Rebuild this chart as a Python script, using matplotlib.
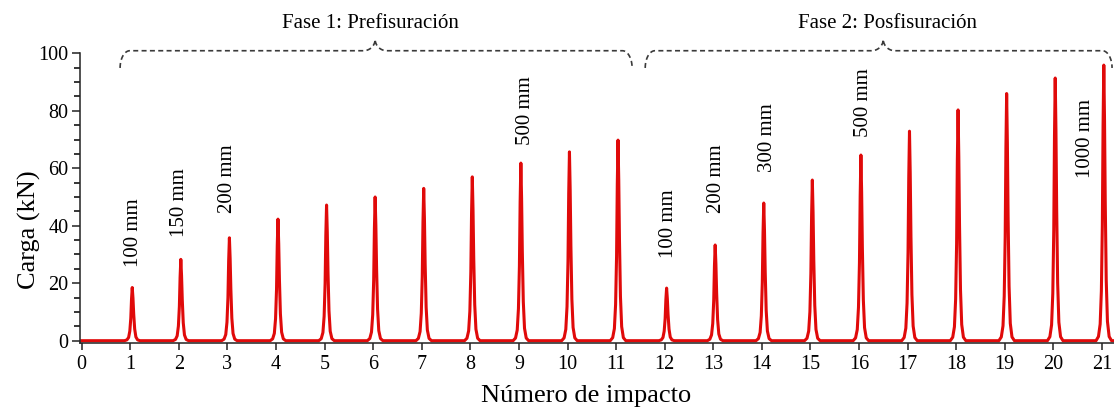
#!/usr/bin/env python3
"""
Carga vs numero de impacto: pulse train of impact loads with drop height labels.
"""

import numpy as np
import matplotlib
matplotlib.use("Agg")
import matplotlib.pyplot as plt

# --- data ---
impacts = list(range(1, 22))
peak_load = [18.5, 28.3, 35.8, 42.3, 47.2, 50.0, 53.0, 57.0, 61.8, 65.7, 69.8,
             18.3, 33.3, 47.9, 55.9, 64.6, 72.9, 80.3, 86.0, 91.4, 95.9]

# normalised shape of one load pulse (time offset from impact, fraction of peak)
pulse_dt = [-0.16, -0.11, -0.075, -0.05, -0.03, -0.015, 0.0, 0.015, 0.03, 0.05, 0.075, 0.11, 0.16]
pulse_frac = [0.0, 0.015, 0.06, 0.18, 0.42, 0.78, 1.0, 0.8, 0.5, 0.22, 0.07, 0.015, 0.0]

drop_labels = ["100 mm", "150 mm", "200 mm", "500 mm",
               "100 mm", "200 mm", "300 mm", "500 mm", "1000 mm"]
drop_x = [1.06, 2.02, 3.01, 9.13, 12.07, 13.06, 14.11, 16.10, 20.66]
drop_y = [25.6, 36.2, 44.4, 68.1, 28.8, 44.4, 58.7, 70.9, 56.6]

phase_labels = ["Fase 1: Prefisuración", "Fase 2: Posfisuración"]
phase_start = [0.79, 11.60]
phase_end = [11.33, 21.21]
phase_tip = [6.04, 16.50]
phase_text_x = [5.94, 16.58]

plt.rcParams["font.family"] = ["Liberation Serif", "DejaVu Serif"]

RED = "#e00a0a"
DASH = "#3a3a3a"


def draw_brace(ax, x0, x1, xm, y, end_w=0.2, end_h=6.0, tip_w=0.24, tip_h=4.0):
    t = np.linspace(0, np.pi / 2, 20)
    xs, ys = [], []
    xs += list(x0 + end_w - end_w * np.cos(t)); ys += list(y - end_h + end_h * np.sin(t))
    xs += list(xm - tip_w + tip_w * np.sin(t)); ys += list(y + tip_h - tip_h * np.cos(t))
    xs += list(xm + tip_w - tip_w * np.sin(t[::-1])); ys += list(y + tip_h - tip_h * np.cos(t[::-1]))
    xs += list(x1 - end_w + end_w * np.sin(t)); ys += list(y - end_h + end_h * np.cos(t))
    ax.plot(xs, ys, color=DASH, lw=1.2, ls=(0, (3, 2)), clip_on=False)


# build the load signal from the pulses
sig_x = [0.0]
sig_y = [0.0]
for imp, pk in zip(impacts, peak_load):
    for dt, fr in zip(pulse_dt, pulse_frac):
        sig_x.append(imp + 0.04 + dt)
        sig_y.append(pk * fr)
sig_x.append(21.3)
sig_y.append(0.0)

fig = plt.figure(figsize=(11.14, 4.12), dpi=100)
ax = fig.add_axes([0.0714, 0.1682, 0.9286, 0.7024])

ax.plot(sig_x, sig_y, color=RED, lw=2.2, solid_joinstyle="round", clip_on=False)

ax.set_xlim(-0.045, 21.25)
ax.set_ylim(-0.7, 100)
ax.set_xticks(range(0, 22))
ax.set_yticks(range(0, 101, 20))
ax.set_yticks(range(0, 101, 5), minor=True)
ax.tick_params(axis="both", labelsize=14.5, direction="out", width=1.1, color="#222222")
ax.tick_params(axis="y", which="major", length=6, pad=2)
ax.tick_params(axis="y", which="minor", length=4, width=1.1)
ax.tick_params(axis="x", which="major", length=5, pad=4)

for s in ["top", "right"]:
    ax.spines[s].set_visible(False)
for s in ["left", "bottom"]:
    ax.spines[s].set_linewidth(1.1)
    ax.spines[s].set_color("#222222")

ax.set_xlabel("Número de impacto", fontsize=19)
ax.xaxis.set_label_coords(0.49, -0.145)
ax.set_ylabel("Carga (kN)", fontsize=19)
ax.yaxis.set_label_coords(-0.037, 0.39)

for lab, lx, ly in zip(drop_labels, drop_x, drop_y):
    ax.text(lx, ly, lab, rotation=90, ha="center", va="bottom", fontsize=15)

for lab, x0, x1, xm, tx in zip(phase_labels, phase_start, phase_end, phase_tip, phase_text_x):
    draw_brace(ax, x0, x1, xm, 100.9)
    ax.text(tx, 108.8, lab, ha="center", va="baseline", fontsize=15, clip_on=False)

fig.savefig("out.png", dpi=100)
plt.close(fig)
